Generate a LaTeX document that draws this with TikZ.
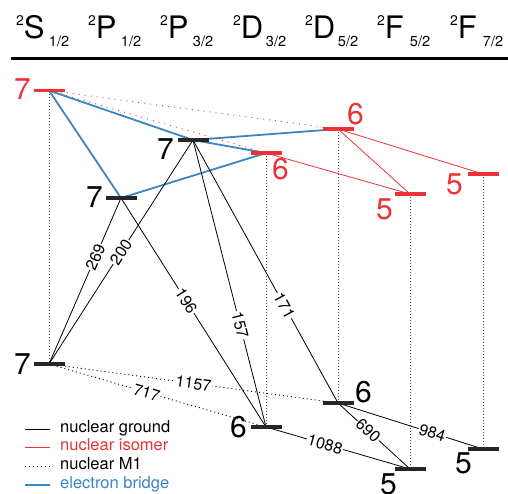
\documentclass[tikz,border=0pt]{standalone}
\usepackage{fontspec}
\setmainfont{TeX Gyre Heros}
\usetikzlibrary{backgrounds}
\definecolor{isored}{RGB}{236,50,55}
\definecolor{bridgeblue}{RGB}{58,134,194}
\newcommand{\term}[3]{\raisebox{13pt}{\fontsize{14}{14}\selectfont 2}\makebox[25pt][l]{#1}\raisebox{-8pt}{\fontsize{14.5}{14.5}\selectfont #2/#3}}
\tikzset{
	lev/.style={rectangle, minimum width=31pt, minimum height=3.5pt, inner sep=0pt, fill=#1},
	num/.style={inner sep=0pt, font=\fontsize{30}{30}\selectfont},
	tlab/.style={fill=white, inner sep=1pt, sloped, font=\fontsize{16}{16}\selectfont},
	gnd/.style={line width=0.8pt, black},
	mone/.style={line width=0.9pt, black, dash pattern=on 1pt off 3pt},
	iso/.style={line width=0.8pt, isored},
	isodot/.style={line width=0.9pt, isored, dash pattern=on 1pt off 5pt},
	bridge/.style={line width=1.8pt, bridgeblue},
	vert/.style={line width=1pt, black!70, dash pattern=on 1pt off 2pt},
}
\begin{document}
\begin{tikzpicture}[x=1pt, y=-1pt]
	\useasboundingbox (0,0) rectangle (508,493);
	\foreach \n/\x/\l/\a/\b in {hS/16/S/1/2, hPI/88/P/1/2, hPIII/160/P/3/2, hDIII/233/D/3/2, hDV/305/D/5/2, hFV/377/F/5/2, hFVII/450/F/7/2}{
		\node[anchor=base west, inner sep=0pt, font=\fontsize{31}{31}\selectfont] (\n) at (\x, 38.3) {\term{\l}{\a}{\b}};
	}
	\draw[line width=3pt] (11,58.3) -- (508,58.3);
	\foreach \n/\x/\y/\c in {sI/49/90.5/isored, pI/121/198/black!85, pIII/193/140/black!85, dIIII/266/153/isored, dVI/338/129/isored, fVI/410/194/isored, fVII/483/174/isored, sG/49/364/black!85, dIIIG/266/427/black!85, dVG/338/403/black!85, fVG/410/469/black!85, fVIIG/483/449/black!85}{
		\node[lev=\c] (\n) at (\x,\y) {};
	}
	\foreach \n/\a/\x/\y/\t/\c in {lsI/east/31/89/7/isored, lpI/east/103/197/7/black, lpIII/east/174/149/7/black, ldIIII/north west/272/158/6/isored, ldVI/south west/347/125/6/isored, lfVI/north east/393/198/5/isored, lfVII/north east/463/173/5/isored, lsG/east/31/364/7/black, ldIIIG/east/247/427/6/black, ldVG/south west/355/403/6/black, lfVG/north east/397/473/5/black, lfVIIG/north east/472/452/5/black}{
		\node[num, anchor=\a, text=\c] (\n) at (\x,\y) {\t};
	}
	\begin{scope}[on background layer]
		\foreach \a/\b in {sI/sG, dIIII/dIIIG, dVI/dVG, fVI/fVG, fVII/fVIIG}{
			\draw[vert] (\a.center) -- (\b.center);
		}
		\foreach \a/\b in {sI/dVI, sI/dIIII}{
			\draw[isodot] (\a.center) -- (\b.center);
		}
		\foreach \a/\b in {dIIII/fVI, dVI/fVI, dVI/fVII}{
			\draw[iso] (\a.center) -- (\b.center);
		}
		\foreach \a/\b in {sI/pIII, sI/pI, pIII/dVI, pIII/dIIII, pI/dIIII}{
			\draw[bridge] (\a.center) -- (\b.center);
		}
		\foreach \a/\b/\t/\p in {sG/dIIIG/717/0.45, sG/dVG/1157/0.5}{
			\draw[mone] (\a.center) -- node[tlab, pos=\p] (t\t) {\t} (\b.center);
		}
		\foreach \a/\b/\t/\p in {sG/pI/269/0.645, sG/pIII/200/0.5, pI/dIIIG/196/0.45, pIII/dIIIG/157/0.645, pIII/dVG/171/0.63, dIIIG/fVG/1088/0.41, dVG/fVG/690/0.42, dVG/fVIIG/984/0.65}{
			\draw[gnd] (\a.center) -- node[tlab, pos=\p] (t\t) {\t} (\b.center);
		}
	\end{scope}
	\foreach \n/\y/\s/\c/\t in {lgI/432/gnd/black/nuclear ground, lgII/450.5/iso/isored/nuclear isomer, lgIII/469.5/mone/black/nuclear M1, lgIV/488/bridge/bridgeblue/electron bridge}{
		\node[anchor=base west, inner sep=0pt, text=\c, font=\fontsize{16.5}{16.5}\selectfont] (\n) at (60,\y) {\t};
		\draw[\s] ([shift={(-35pt,3pt)}]\n.base west) -- ([shift={(-10pt,3pt)}]\n.base west);
	}
\end{tikzpicture}
\end{document}
